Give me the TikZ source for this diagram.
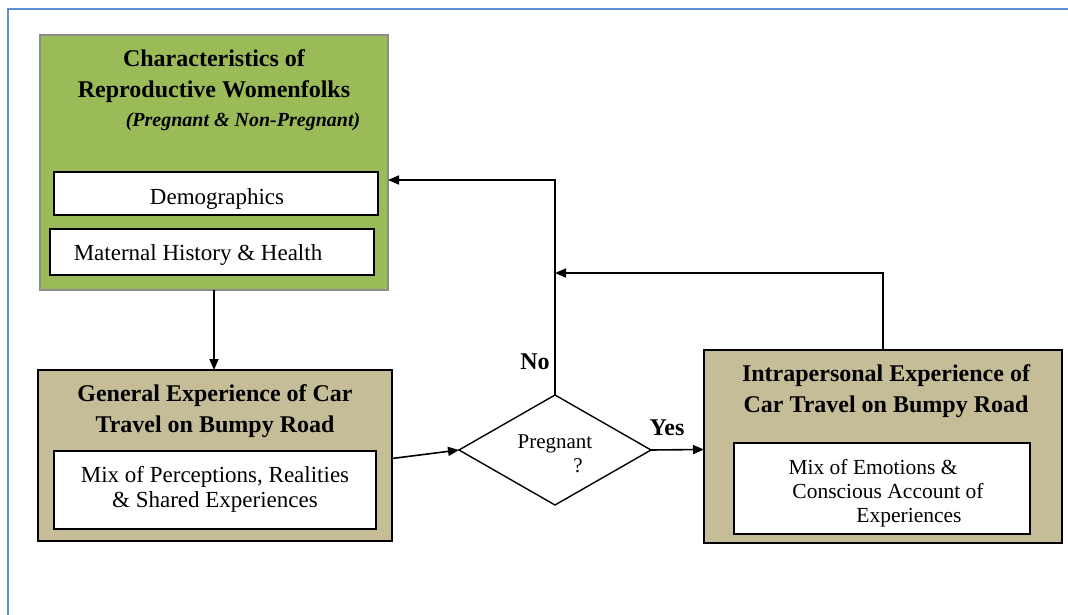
\documentclass[tikz,border=0pt]{standalone}
\usepackage{fontspec}
\setmainfont{Liberation Serif}
\usetikzlibrary{shapes.geometric,arrows.meta}
\definecolor{leafgreen}{HTML}{9BBB59}
\definecolor{khaki}{HTML}{C4BD97}
\definecolor{framegray}{HTML}{8C8C8C}
\definecolor{frameblue}{HTML}{5B8FD6}
\begin{document}
\begin{tikzpicture}[x=1pt,y=-1pt,line join=miter]
\tikzset{outerbox/.style={draw=black,line width=1.6pt,fill=khaki,inner sep=0pt,outer sep=0pt},
  innerbox/.style={draw=black,line width=1.4pt,fill=white,inner sep=0pt,outer sep=0pt},
  headtext/.style={font=\fontsize{24}{31}\selectfont\bfseries,align=center,inner sep=0pt},
  bodytext/.style={font=\fontsize{23}{25}\selectfont,align=center,inner sep=0pt},
  flow/.style={line width=1.6pt,-{Triangle[length=11pt,width=9pt]}}}
\useasboundingbox (0,0) rectangle (1068,615);
% page frame
\draw[frameblue,line width=2pt] (8,615) -- (8,9) -- (1068,9);
% characteristics box
\node[outerbox,draw=framegray,fill=leafgreen,minimum width=348pt,minimum height=255pt] (chars) at (214,162.5) {};
\node[headtext] (charshead) at (214,76) {Characteristics of\\Reproductive Womenfolks};
\node[headtext,font=\fontsize{20}{24}\selectfont\bfseries\itshape] (charsnote) at (243,122) {(Pregnant \& Non-Pregnant)};
\node[innerbox,minimum width=324pt,minimum height=43pt] (demo) at (216,193.5) {};
\node[bodytext,anchor=base] (demotext) at (217,204) {Demographics};
\node[innerbox,minimum width=324pt,minimum height=46pt] (mat) at (212,252) {};
\node[bodytext,anchor=base] (mattext) at (198,260) {Maternal History \& Health};
% general experience box
\node[outerbox,minimum width=354pt,minimum height=171pt] (general) at (215,455.5) {};
\node[headtext] (generalhead) at (215,411) {General Experience of Car\\Travel on Bumpy Road};
\node[innerbox,minimum width=322pt,minimum height=78pt] (mix) at (215,490) {};
\node[bodytext] (mixtext) at (215,489.5) {Mix of Perceptions, Realities\\\& Shared Experiences};
% decision
\node[draw=black,line width=1.4pt,shape=diamond,fill=white,inner sep=0pt,outer sep=0pt,
  minimum width=192pt,minimum height=110pt] (dia) at (555,450) {};
\node[bodytext,font=\fontsize{21}{24}\selectfont,anchor=base] (diatext) at (555,448) {Pregnant};
\node[bodytext,font=\fontsize{21}{24}\selectfont,anchor=base] (diaq) at (578,472) {?};
% intrapersonal experience box
\node[outerbox,minimum width=358pt,minimum height=193pt] (intra) at (883,446.5) {};
\node[headtext] (intrahead) at (886,391) {Intrapersonal Experience of\\Car Travel on Bumpy Road};
\node[innerbox,minimum width=296pt,minimum height=91pt] (emo) at (882,488.5) {};
\foreach \x/\y/\line [count=\i] in {873/474/Mix of Emotions \&,888/498/Conscious Account of,909/522/Experiences}
  \node[bodytext,font=\fontsize{21.5}{24}\selectfont,anchor=base] (emotext\i) at (\x,\y) {\line};
% connectors
\coordinate (back) at (555,273);
\draw[flow] (chars.south) -- (chars.south |- general.north);
\draw[flow] ([yshift=-3pt]general.east) -- (dia.west);
\draw[flow] (dia.east) -- ([yshift=-3pt]intra.west);
\draw[flow] (dia.north) |- ([yshift=-17.5pt]chars.east);
\draw[flow] (intra.north) |- (back);
\node[headtext] (nolabel) at (535,362) {No};
\node[headtext] (yeslabel) at (667,428) {Yes};
\end{tikzpicture}
\end{document}
